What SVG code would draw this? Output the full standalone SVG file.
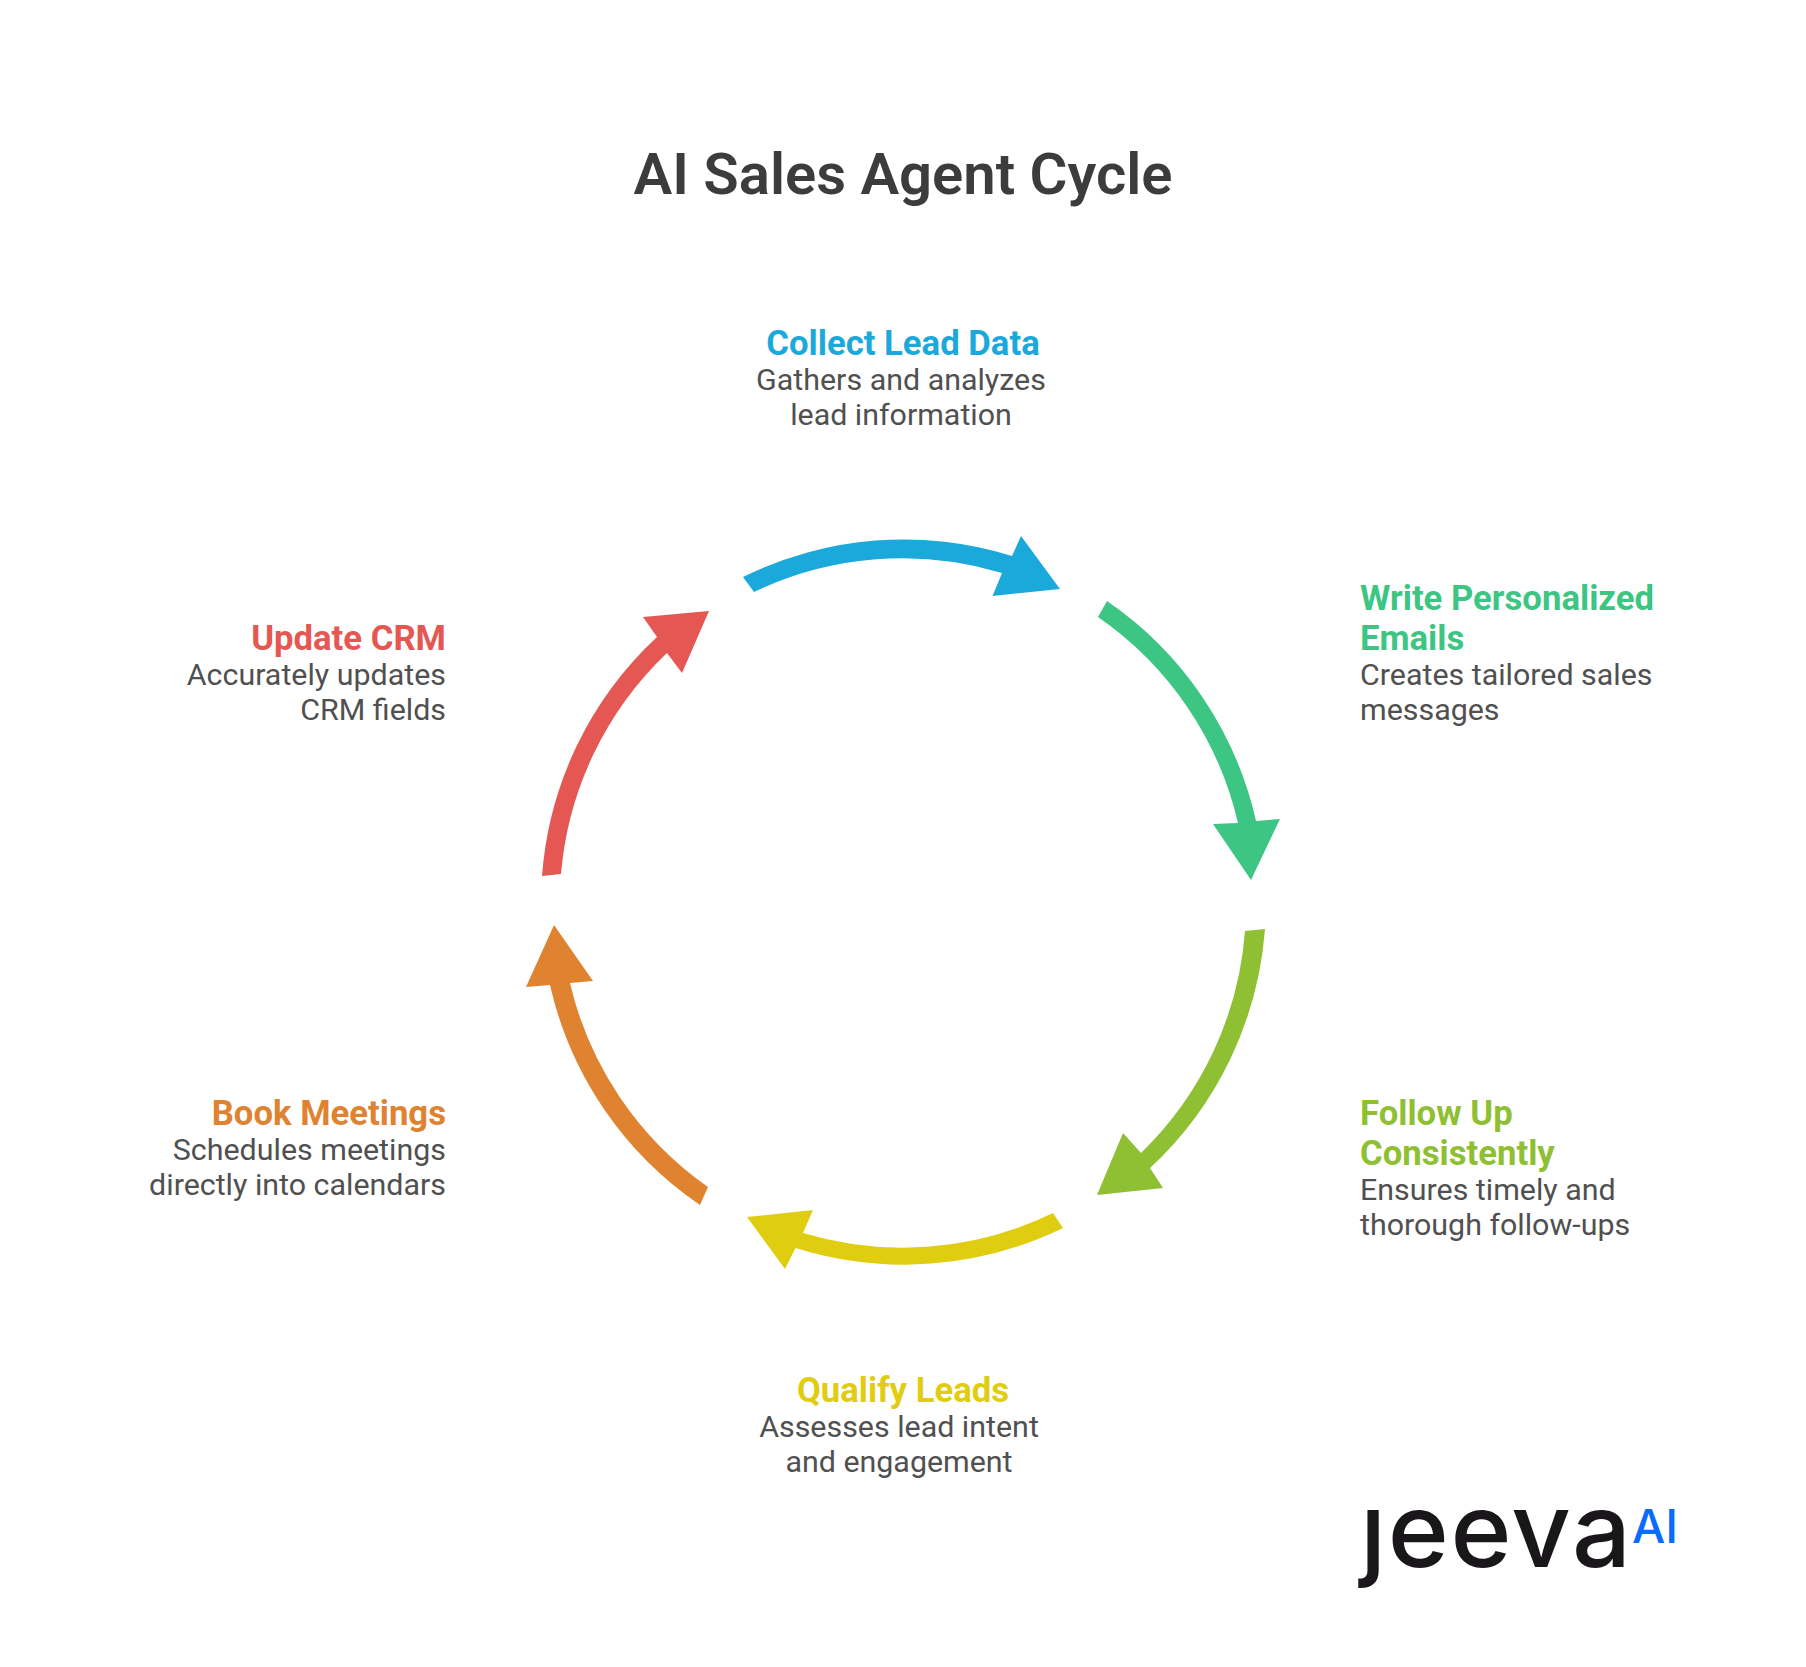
<svg xmlns="http://www.w3.org/2000/svg" width="1806" height="1667" viewBox="0 0 1806 1667">
<style>
text{font-family:Roboto,"Liberation Sans",sans-serif}
.t{font-size:58px;font-weight:600;fill:#3c3c3c;text-anchor:middle}
.h{font-size:34.7px;font-weight:700}
.d{font-size:30.4px;font-weight:400;fill:#505050}
.m{text-anchor:middle}.e{text-anchor:end}
.blue{fill:#1ba9db}.green{fill:#3cc583}.lime{fill:#8fbf32}.yellow{fill:#e1cd10}.orange{fill:#e08330}.red{fill:#e55753}
</style>
<defs><clipPath id="noDot"><rect x="1340" y="1509" width="300" height="100"/></clipPath></defs>
<rect width="1806" height="1667" fill="#fff"/>
<text class="t" x="903" y="194">AI Sales Agent Cycle</text>
<g id="connectors">
<path class="blue" d="M743,577A363,363 0 0 1 1012,556L1021,536L1060,589L992.5,596L1002,573A345,345 0 0 0 754,592Z"/>
<path class="green" d="M1107,601A363,363 0 0 1 1256,821L1280,819L1251,880L1213,824L1238,823A345,345 0 0 0 1098,617Z"/>
<path class="lime" d="M1265,929A363,363 0 0 1 1150,1168L1163,1188L1097,1195L1123,1133L1141,1153A345,345 0 0 0 1245,931Z"/>
<path class="yellow" d="M1063,1228A363,363 0 0 1 795.5,1248L785,1269L747,1217L813,1210L803,1233A345,345 0 0 0 1053,1213Z"/>
<path class="orange" d="M700,1205A363,363 0 0 1 550,985L526,987L554,925L593,981L570,983A345,345 0 0 0 708,1187Z"/>
<path class="red" d="M542,876A363,363 0 0 1 657,637L643,617L709,611L682,673L667,653A345,345 0 0 0 561,874Z"/>
</g>
<g id="collect"><text class="h m blue" x="903" y="355">Collect Lead Data</text><text class="d m" x="901" y="390">Gathers and analyzes</text><text class="d m" x="901" y="425">lead information</text></g>
<g id="write"><text class="h green" x="1360" y="610">Write Personalized</text><text class="h green" x="1360" y="650">Emails</text><text class="d" x="1360" y="685">Creates tailored sales</text><text class="d" x="1360" y="720">messages</text></g>
<g id="follow"><text class="h lime" x="1360" y="1125">Follow Up</text><text class="h lime" x="1360" y="1165">Consistently</text><text class="d" x="1360" y="1200">Ensures timely and</text><text class="d" x="1360" y="1235">thorough follow-ups</text></g>
<g id="qualify"><text class="h m yellow" x="903" y="1402">Qualify Leads</text><text class="d m" x="899" y="1437">Assesses lead intent</text><text class="d m" x="899" y="1472">and engagement</text></g>
<g id="book"><text class="h e orange" x="446" y="1125">Book Meetings</text><text class="d e" x="446" y="1160">Schedules meetings</text><text class="d e" x="446" y="1195">directly into calendars</text></g>
<g id="update"><text class="h e red" x="446" y="650">Update CRM</text><text class="d e" x="446" y="685">Accurately updates</text><text class="d e" x="446" y="720">CRM fields</text></g>
<g id="logo"><text clip-path="url(#noDot)" x="1360" y="1567" font-size="104" font-weight="500" letter-spacing="1.6" fill="#1a171b" style="font-family:Inter,sans-serif">jeeva</text><text x="1632" y="1543" font-size="47" font-weight="500" fill="#0a6cff" style="font-family:Inter,sans-serif">AI</text></g>
</svg>
